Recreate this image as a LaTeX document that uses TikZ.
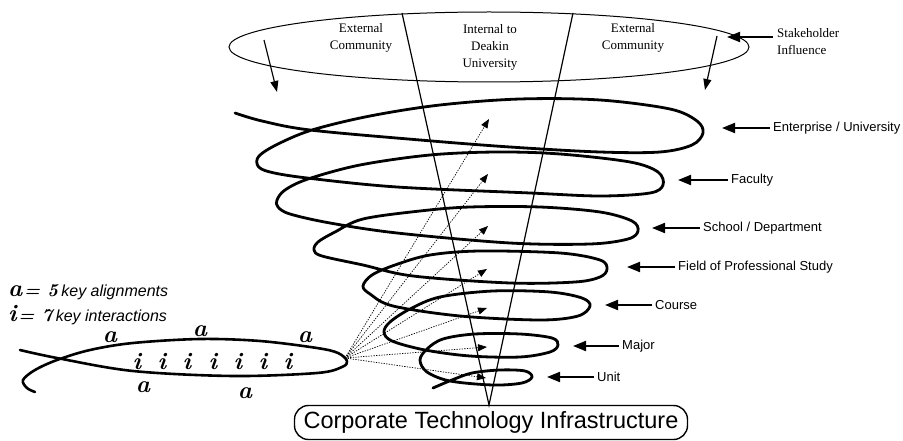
\documentclass[tikz,border=0pt]{standalone}
\usepackage{fontspec}
\newfontfamily\tnr{Liberation Serif}
\newfontfamily\ars{Liberation Sans}
\usetikzlibrary{arrows.meta}
\begin{document}
\begin{tikzpicture}[x=1pt,y=-1pt,
  spiral/.style={line width=2.8pt, line join=round, line cap=round},
  cone/.style={line width=1.2pt},
  ring/.style={line width=1pt},
  labarrow/.style={line width=2pt, -{Triangle[length=13pt,width=10pt]}},
  infl/.style={line width=1.2pt, -{Triangle[length=11pt,width=8pt]}},
  dotarrow/.style={line width=0.7pt, dash pattern=on 1.3pt off 1.3pt, -{Triangle[length=9pt,width=7pt]}},
  lab/.style={anchor=west, inner sep=3pt, font=\ars\fontsize{13}{15}\selectfont},
  ser/.style={inner sep=0pt, align=center, font=\tnr\fontsize{13}{17}\selectfont},
  scr/.style={inner sep=0pt, font=\fontsize{24}{24}\selectfont\bfseries\itshape},
]
\useasboundingbox (0,0) rectangle (903,441);

% top ellipse and cone
\draw[ring] (489,47) ellipse [x radius=260pt, y radius=35pt];
\coordinate (coneL) at (402,13);
\coordinate (coneR) at (573,13);
\coordinate (apex) at (489,405);
\draw[cone] (coneL) -- (apex) -- (coneR);

\node[ser] (ext1) at (361,38) {External\\Community};
\node[ser] (intl) at (490,47) {Internal to\\Deakin\\University};
\node[ser] (ext2) at (633,38) {External\\Community};
\node[ser, align=left, anchor=west] (stake) at (777,42) {Stakeholder\\Influence};

\coordinate (stakeT) at (773,37);
\coordinate (stakeH) at (727,37);
\draw[labarrow] (stakeT) -- (stakeH);

\coordinate (ia1) at (264,40);
\coordinate (ia2) at (277,92);
\draw[infl] (ia1) -- (ia2);
\coordinate (ib1) at (717,36);
\coordinate (ib2) at (705,90);
\draw[infl] (ib1) -- (ib2);

% spiral
\draw[spiral] plot[smooth, tension=0.55] coordinates {
(235,113) (262,121) (310,130) (420,140) (510,147) (600,152) (660,152) (692,145) (703,133)
(697,121) (670,109) (600,100) (520,99) (440,105) (370,116) (312,130) (278,144) (259,156) (258,166) (270,172)
(307,178) (397,187) (530,193) (600,196) (650,193) (663,185)
(658,172) (630,162) (560,154) (497,152) (430,155) (360,165) (308,179) (285,190) (277,200) (278,207) (290,214)
(330,223) (397,233) (510,243) (590,244) (628,239) (638,231)
(632,221) (600,212) (540,207) (470,207) (420,211) (363,219) (335,232) (318,242) (314,250) (322,256)
(363,265) (413,276) (510,283) (575,282) (600,277) (607,269)
(600,260) (560,253) (480,251) (430,255) (395,265) (372,275) (363,286) (370,294)
(393,306) (460,316) (540,320) (578,316) (590,306)
(582,298) (550,292) (493,291) (440,297) (410,309) (390,322) (384,332) (392,341)
(425,350) (470,356) (520,357) (550,352) (558,345)
(552,338) (520,334) (475,334) (443,339) (427,349) (420,360) (427,372)
(450,381) (493,385) (522,383) (532,377)
(525,371) (500,370) (472,373) (452,380) (433,388)};

% level labels
\node[lab] (lEnt) at (770,128) {Enterprise / University};
\coordinate (tEnt) at (722,128);
\draw[labarrow] (lEnt.west) -- (tEnt);
\node[lab] (lFac) at (728,180) {Faculty};
\coordinate (tFac) at (678,180);
\draw[labarrow] (lFac.west) -- (tFac);
\node[lab] (lSch) at (700,228) {School / Department};
\coordinate (tSch) at (652,228);
\draw[labarrow] (lSch.west) -- (tSch);
\node[lab] (lFie) at (675,267) {Field of Professional Study};
\coordinate (tFie) at (627,267);
\draw[labarrow] (lFie.west) -- (tFie);
\node[lab] (lCou) at (652,305) {Course};
\coordinate (tCou) at (605,305);
\draw[labarrow] (lCou.west) -- (tCou);
\node[lab] (lMaj) at (619,346) {Major};
\coordinate (tMaj) at (573,346);
\draw[labarrow] (lMaj.west) -- (tMaj);
\node[lab] (lUni) at (594,377) {Unit};
\coordinate (tUni) at (547,377);
\draw[labarrow] (lUni.west) -- (tUni);

% bottom box
\node[draw, line width=1.4pt, rounded corners=14pt, minimum width=393pt, minimum height=34pt,
  inner sep=0pt, font=\ars\fontsize{23.5}{23.5}\selectfont] (cti) at (491,422.5) {Corporate Technology Infrastructure};

% fish
\draw[spiral, line width=2.6pt] plot[smooth, tension=0.55] coordinates {
(20,350) (57,358) (133,371) (233,376) (317,373) (342,367) (347,361) (338,353) (317,348) (260,341)
(200,339) (133,343) (90,350) (57,360) (35,370) (23,380) (27,388) (35,392)};

\node[scr] (a1) at (110,337) {a};
\node[scr] (a2) at (200,331) {a};
\node[scr] (a3) at (305,337) {a};
\node[scr] (a4) at (143,387) {a};
\node[scr] (a5) at (245,393) {a};
\foreach \n/\xx in {1/137,2/162,3/187,4/213,5/238,6/263,7/288}{
  \node[scr] (i\n) at (\xx,362) {i};
}

% dotted arrows
\coordinate (src) at (345,358);
\foreach \n/\xx/\yy in {1/489/119,2/488/174,3/488/226,4/487/269,5/487/308,6/487/347,7/486/378}{
  \coordinate (d\n) at (\xx,\yy);
  \draw[dotarrow] (src) -- (d\n);
}

% legend
\node[anchor=west, inner sep=0pt] (leg1) at (8,292) {{\fontsize{24}{24}\selectfont\bfseries\itshape a}\,{\fontsize{18}{18}\selectfont\bfseries\itshape = 5} {\ars\itshape\fontsize{16}{16}\selectfont key alignments}};
\node[anchor=west, inner sep=0pt] (leg2) at (8,315) {{\fontsize{24}{24}\selectfont\bfseries\itshape i}\,{\fontsize{18}{18}\selectfont\bfseries\itshape = 7} {\ars\itshape\fontsize{16}{16}\selectfont key interactions}};
\end{tikzpicture}
\end{document}
